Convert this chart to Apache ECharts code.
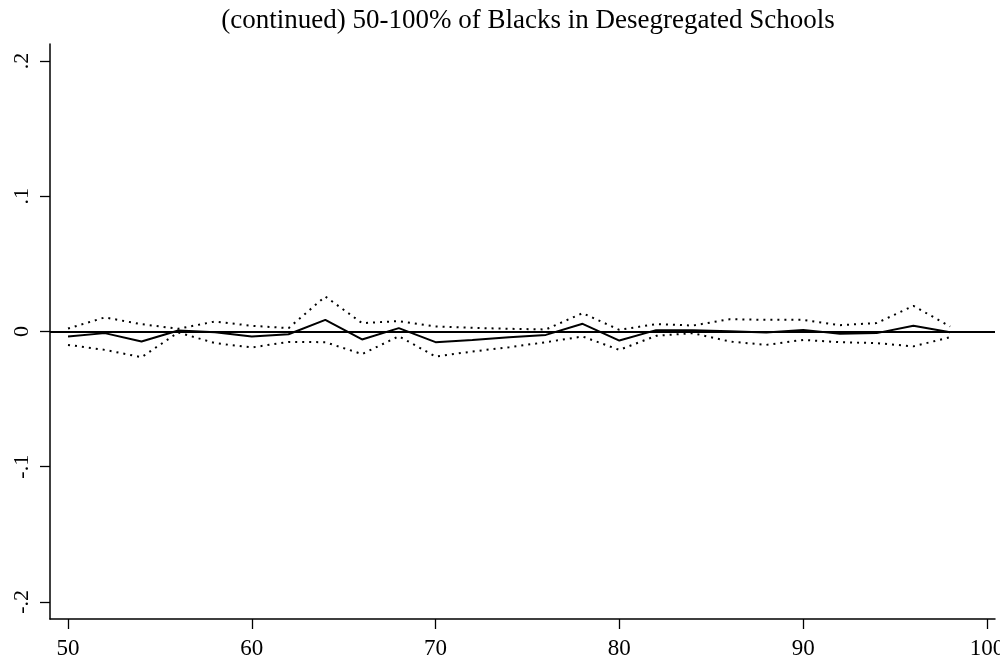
<!DOCTYPE html>
<html>
<head>
<meta charset="utf-8">
<script src="https://cdn.jsdelivr.net/npm/echarts@6/dist/echarts.min.js"></script>
<style>html,body{margin:0;padding:0;background:#fff}#c{width:1000px;height:662px}</style>
</head>
<body>
<div id="c"></div>
<script>
const years = [50,52,54,56,58,60,62,64,66,68,70,72,74,76,78,80,82,84,86,88,90,92,94,96,98];
const estimate = [-0.0037,-0.0012,-0.0074,0.0007,-0.0005,-0.0037,-0.002,0.0086,-0.0059,0.0025,-0.0079,-0.0062,-0.0042,-0.0025,0.0057,-0.0067,0.001,0.001,0.0002,-0.0007,0.0012,-0.0017,-0.0012,0.0042,-0.0005];
const upperCI = [0.0022,0.0104,0.0054,0.002,0.0074,0.0042,0.0025,0.0259,0.0062,0.0077,0.0037,0.0027,0.002,0.0015,0.0136,0.0012,0.0055,0.0044,0.0091,0.0086,0.0086,0.0047,0.0062,0.019,0.0037];
const lowerCI = [-0.0099,-0.0136,-0.019,-0.0007,-0.0086,-0.0118,-0.0077,-0.0079,-0.0167,-0.0035,-0.0185,-0.0148,-0.0116,-0.0079,-0.0037,-0.0136,-0.0032,-0.0012,-0.0074,-0.0099,-0.0062,-0.0079,-0.0086,-0.011,-0.0042];
const xTicks = [50,60,70,80,90,100];
const yTicks = [-0.2,-0.1,0,0.1,0.2];
const yTickLabels = {'-0.2':'-.2','-0.1':'-.1','0':'0','0.1':'.1','0.2':'.2'};
const title = '(continued) 50-100% of Blacks in Desegregated Schools';

const font = 'Liberation Serif';
const chart = echarts.init(document.getElementById('c'), null, {renderer:'canvas'});
const pair = arr => years.map((x,i)=>[x,arr[i]]);
chart.setOption({
  animation:false,
  backgroundColor:'#fff',
  title:{text:title,left:523,textAlign:'center',top:2,textStyle:{fontFamily:font,fontSize:27,fontWeight:'normal',color:'#000'}},
  grid:{left:50,right:5,top:44,bottom:43,outerBoundsMode:'none',containLabel:false},
  xAxis:{type:'value',min:49.02,max:100.44,
    axisLine:{show:true,onZero:false,lineStyle:{color:'#000',width:1.5}},
    axisTick:{show:true,customValues:xTicks,length:10,lineStyle:{color:'#000',width:1.3}},
    axisLabel:{customValues:xTicks,color:'#000',fontFamily:font,fontSize:23,margin:18,hideOverlap:false},
    splitLine:{show:false}},
  yAxis:{type:'value',min:-0.2126,max:0.2126,
    axisLine:{show:true,onZero:false,lineStyle:{color:'#000',width:1.5}},
    axisTick:{show:true,customValues:yTicks,length:10,lineStyle:{color:'#000',width:1.3}},
    axisLabel:{customValues:yTicks,rotate:90,color:'#000',fontFamily:font,fontSize:22,margin:17,
      formatter:v=>yTickLabels[String(Math.round(v*10)/10)] ?? String(v)},
    splitLine:{show:false}},
  series:[
    {type:'line',data:pair(estimate),symbol:'none',lineStyle:{color:'#000',width:2},
     markLine:{silent:true,symbol:['none','none'],label:{show:false},lineStyle:{color:'#000',width:2,type:'solid'},data:[{yAxis:0}]}},
    {type:'line',data:pair(upperCI),symbol:'none',lineStyle:{color:'#000',width:2,type:[2,5]}},
    {type:'line',data:pair(lowerCI),symbol:'none',lineStyle:{color:'#000',width:2,type:[2,5]}}
  ]
});
</script>
</body>
</html>
